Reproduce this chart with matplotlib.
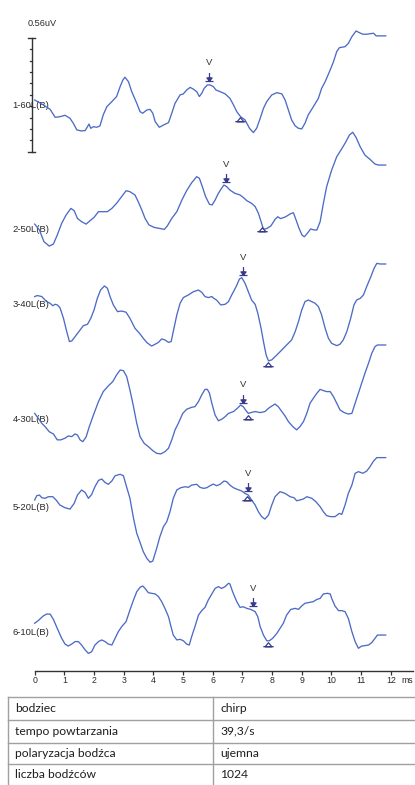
import numpy as np
import matplotlib
matplotlib.use("Agg")
import matplotlib.pyplot as plt
from matplotlib.path import Path
from matplotlib.transforms import offset_copy
from matplotlib.lines import Line2D

# ---------------- data (latency in ms, amplitude in uV) ----------------
trace_labels = ["1-60L(B)", "2-50L(B)", "3-40L(B)", "4-30L(B)", "5-20L(B)", "6-10L(B)"]

t1 = [0, 0.29, 0.52, 0.69, 0.85, 1.02, 1.19, 1.30, 1.42, 1.58, 1.70, 1.78, 1.83, 1.89, 1.98,
      2.09, 2.20, 2.31, 2.43, 2.60, 2.76, 2.88, 2.97, 3.04, 3.16, 3.27, 3.44, 3.55, 3.64, 3.78,
      3.89, 3.98, 4.06, 4.20, 4.34, 4.51, 4.62, 4.73, 4.90, 5.01, 5.12, 5.24, 5.35, 5.46, 5.55,
      5.63, 5.71, 5.82, 5.91, 6.02, 6.11, 6.25, 6.42, 6.58, 6.70, 6.81, 6.94, 7.09, 7.24, 7.37,
      7.48, 7.60, 7.71, 7.82, 7.99, 8.16, 8.33, 8.44, 8.55, 8.66, 8.78, 8.89, 9.00, 9.11, 9.22,
      9.39, 9.56, 9.67, 9.79, 9.96, 10.07, 10.18, 10.27, 10.46, 10.57, 10.69, 10.83, 10.94, 11.06, 11.19,
      11.33, 11.42, 11.51, 11.83]
a1 = [0.026, 0.002, -0.020, -0.059, -0.056, -0.049, -0.064, -0.088, -0.121, -0.126, -0.124, -0.105, -0.092, -0.113, -0.105,
      -0.108, -0.101, -0.047, -0.007, 0.018, 0.043, 0.092, 0.124, 0.138, 0.116, 0.067, 0.010, -0.031, -0.039, -0.023,
      -0.020, -0.039, -0.080, -0.108, -0.097, -0.085, -0.039, 0.010, 0.051, 0.056, 0.075, 0.088, 0.079, 0.067, 0.043,
      0.059, 0.083, 0.100, 0.100, 0.092, 0.075, 0.067, 0.056, 0.034, 0.002, -0.031, -0.056, -0.072, -0.113, -0.134,
      -0.113, -0.064, -0.015, 0.018, 0.051, 0.062, 0.056, 0.026, -0.023, -0.072, -0.101, -0.113, -0.116, -0.088, -0.047,
      -0.007, 0.034, 0.083, 0.116, 0.174, 0.214, 0.264, 0.283, 0.288, 0.304, 0.337, 0.365, 0.357, 0.349, 0.349,
      0.352, 0.354, 0.341, 0.341]

t2 = [0, 0.16, 0.31, 0.49, 0.63, 0.76, 0.91, 1.06, 1.22, 1.33, 1.44, 1.58, 1.73, 1.87, 2.00,
      2.15, 2.31, 2.45, 2.60, 2.76, 2.93, 3.08, 3.21, 3.38, 3.49, 3.61, 3.72, 3.85, 4.02, 4.20,
      4.37, 4.47, 4.62, 4.79, 4.96, 5.12, 5.29, 5.46, 5.55, 5.65, 5.76, 5.89, 5.98, 6.08, 6.19,
      6.30, 6.38, 6.47, 6.58, 6.75, 6.92, 7.03, 7.15, 7.31, 7.43, 7.54, 7.63, 7.71, 7.82, 7.96,
      8.10, 8.19, 8.29, 8.46, 8.61, 8.72, 8.81, 8.91, 9.01, 9.09, 9.19, 9.30, 9.42, 9.51, 9.62,
      9.73, 9.84, 10.01, 10.18, 10.31, 10.46, 10.61, 10.72, 10.83, 10.97, 11.13, 11.30, 11.47, 11.58, 11.83]
a2 = [0.029, 0.000, -0.057, -0.079, -0.069, -0.025, 0.033, 0.074, 0.106, 0.095, 0.057, 0.041, 0.029, 0.046, 0.062,
      0.090, 0.090, 0.090, 0.106, 0.131, 0.164, 0.193, 0.188, 0.172, 0.139, 0.098, 0.057, 0.025, 0.013, 0.008,
      0.003, 0.020, 0.057, 0.090, 0.147, 0.193, 0.232, 0.262, 0.254, 0.213, 0.164, 0.126, 0.123, 0.147, 0.180,
      0.205, 0.221, 0.213, 0.196, 0.180, 0.172, 0.160, 0.144, 0.131, 0.115, 0.082, 0.041, 0.003, 0.007, 0.020,
      0.052, 0.065, 0.056, 0.065, 0.079, 0.085, 0.049, 0.008, -0.025, -0.033, -0.016, 0.005, 0.000, 0.000, 0.041,
      0.131, 0.213, 0.295, 0.360, 0.390, 0.426, 0.467, 0.480, 0.455, 0.409, 0.368, 0.347, 0.324, 0.319, 0.319]

t3 = [0, 0.09, 0.24, 0.40, 0.52, 0.61, 0.69, 0.76, 0.85, 0.97, 1.08, 1.17, 1.25, 1.36, 1.53,
      1.64, 1.78, 1.89, 2.00, 2.11, 2.22, 2.35, 2.45, 2.54, 2.65, 2.79, 2.93, 3.08, 3.21, 3.38,
      3.53, 3.66, 3.78, 3.94, 4.06, 4.17, 4.28, 4.39, 4.51, 4.60, 4.67, 4.79, 4.90, 5.01, 5.18,
      5.35, 5.52, 5.63, 5.74, 5.85, 5.97, 6.04, 6.13, 6.27, 6.42, 6.53, 6.64, 6.79, 6.90, 6.98,
      7.09, 7.20, 7.31, 7.43, 7.52, 7.63, 7.71, 7.80, 7.88, 7.99, 8.16, 8.33, 8.49, 8.66, 8.78,
      8.89, 9.00, 9.11, 9.22, 9.34, 9.45, 9.56, 9.67, 9.79, 9.90, 10.01, 10.18, 10.29, 10.40, 10.52,
      10.65, 10.76, 10.85, 10.97, 11.08, 11.19, 11.33, 11.44, 11.53, 11.64, 11.83]
a3 = [0.038, 0.043, 0.038, 0.013, 0.005, -0.007, 0.000, -0.003, -0.016, -0.069, -0.134, -0.183, -0.180, -0.159, -0.126,
      -0.105, -0.098, -0.069, -0.028, 0.029, 0.070, 0.090, 0.079, 0.038, -0.003, -0.036, -0.033, -0.039, -0.069, -0.118,
      -0.142, -0.167, -0.188, -0.205, -0.196, -0.187, -0.170, -0.175, -0.187, -0.183, -0.134, -0.052, 0.005, 0.033, 0.046,
      0.062, 0.070, 0.059, 0.038, 0.033, 0.038, 0.029, 0.021, -0.003, 0.000, 0.013, 0.046, 0.087, 0.124, 0.131,
      0.103, 0.062, 0.021, 0.000, -0.044, -0.118, -0.183, -0.249, -0.278, -0.273, -0.249, -0.224, -0.200, -0.175, -0.134,
      -0.085, -0.028, 0.013, 0.021, 0.013, 0.005, -0.011, -0.052, -0.118, -0.167, -0.192, -0.203, -0.196, -0.175, -0.134,
      -0.069, -0.003, 0.021, 0.029, 0.046, 0.087, 0.136, 0.177, 0.201, 0.198, 0.198]

t4 = [0, 0.12, 0.24, 0.35, 0.49, 0.63, 0.76, 0.88, 1.02, 1.13, 1.25, 1.36, 1.44, 1.53, 1.62,
      1.73, 1.84, 1.98, 2.15, 2.31, 2.48, 2.63, 2.76, 2.88, 2.99, 3.10, 3.21, 3.33, 3.44, 3.55,
      3.69, 3.83, 3.98, 4.11, 4.25, 4.39, 4.51, 4.62, 4.73, 4.84, 4.99, 5.12, 5.29, 5.40, 5.52,
      5.63, 5.74, 5.82, 5.89, 5.97, 6.08, 6.19, 6.30, 6.42, 6.53, 6.70, 6.83, 6.94, 7.03, 7.12,
      7.20, 7.31, 7.43, 7.60, 7.76, 7.88, 7.99, 8.10, 8.21, 8.33, 8.44, 8.55, 8.70, 8.83, 8.94,
      9.06, 9.17, 9.28, 9.39, 9.51, 9.62, 9.73, 9.84, 9.96, 10.07, 10.18, 10.29, 10.43, 10.57, 10.69,
      10.80, 10.91, 11.02, 11.13, 11.25, 11.36, 11.47, 11.55, 11.83]
a4 = [0.029, 0.005, -0.020, -0.036, -0.061, -0.072, -0.101, -0.101, -0.093, -0.082, -0.085, -0.072, -0.077, -0.101, -0.110,
      -0.088, -0.036, 0.021, 0.087, 0.136, 0.164, 0.185, 0.218, 0.242, 0.239, 0.210, 0.144, 0.062, -0.020, -0.085,
      -0.118, -0.134, -0.154, -0.167, -0.170, -0.159, -0.142, -0.101, -0.052, -0.020, 0.029, 0.049, 0.059, 0.062, 0.087,
      0.120, 0.147, 0.147, 0.128, 0.079, 0.021, -0.007, 0.000, 0.013, 0.029, 0.038, 0.054, 0.070, 0.062, 0.043,
      0.029, 0.034, 0.038, 0.033, 0.038, 0.054, 0.065, 0.075, 0.062, 0.038, 0.016, -0.011, -0.036, -0.052, -0.036,
      -0.011, 0.029, 0.079, 0.103, 0.128, 0.147, 0.141, 0.136, 0.136, 0.111, 0.079, 0.046, 0.033, 0.026, 0.029,
      0.079, 0.128, 0.177, 0.226, 0.275, 0.324, 0.357, 0.365, 0.365]

t5 = [0, 0.07, 0.16, 0.24, 0.35, 0.46, 0.61, 0.72, 0.85, 1.02, 1.19, 1.33, 1.44, 1.58, 1.70,
      1.81, 1.92, 2.03, 2.15, 2.26, 2.37, 2.48, 2.60, 2.71, 2.88, 2.99, 3.08, 3.21, 3.33, 3.44,
      3.55, 3.66, 3.78, 3.89, 3.98, 4.11, 4.22, 4.34, 4.45, 4.56, 4.67, 4.79, 4.92, 5.07, 5.18,
      5.29, 5.46, 5.57, 5.69, 5.80, 5.91, 6.02, 6.13, 6.25, 6.38, 6.47, 6.58, 6.70, 6.83, 6.98,
      7.09, 7.20, 7.31, 7.43, 7.54, 7.65, 7.76, 7.88, 7.99, 8.10, 8.27, 8.44, 8.61, 8.74, 8.83,
      8.94, 9.06, 9.17, 9.34, 9.48, 9.62, 9.73, 9.84, 9.98, 10.12, 10.27, 10.35, 10.46, 10.57, 10.69,
      10.80, 10.91, 11.06, 11.19, 11.30, 11.42, 11.53, 11.83]
a5 = [0.038, 0.059, 0.062, 0.049, 0.046, 0.054, 0.054, 0.038, 0.013, 0.000, -0.007, 0.021, 0.062, 0.087, 0.075,
      0.046, 0.065, 0.103, 0.134, 0.141, 0.124, 0.115, 0.131, 0.157, 0.164, 0.157, 0.111, 0.046, -0.052, -0.126,
      -0.170, -0.216, -0.249, -0.268, -0.262, -0.200, -0.142, -0.093, -0.069, -0.020, 0.046, 0.087, 0.098, 0.103, 0.100,
      0.111, 0.115, 0.100, 0.095, 0.098, 0.108, 0.116, 0.108, 0.115, 0.131, 0.128, 0.111, 0.098, 0.090, 0.082,
      0.070, 0.062, 0.038, 0.013, -0.020, -0.044, -0.056, -0.036, 0.013, 0.054, 0.079, 0.070, 0.054, 0.049, 0.034,
      0.038, 0.043, 0.054, 0.046, 0.029, 0.005, -0.020, -0.039, -0.044, -0.044, -0.028, -0.033, 0.013, 0.070, 0.111,
      0.169, 0.177, 0.169, 0.180, 0.201, 0.229, 0.246, 0.246]

t6 = [0, 0.12, 0.29, 0.40, 0.52, 0.63, 0.76, 0.91, 1.02, 1.13, 1.25, 1.36, 1.47, 1.58, 1.70,
      1.81, 1.92, 2.03, 2.15, 2.26, 2.37, 2.48, 2.60, 2.71, 2.82, 2.93, 3.08, 3.21, 3.33, 3.44,
      3.55, 3.64, 3.72, 3.83, 3.94, 4.06, 4.17, 4.28, 4.39, 4.51, 4.58, 4.67, 4.79, 4.90, 5.01,
      5.12, 5.21, 5.29, 5.40, 5.52, 5.63, 5.74, 5.85, 5.97, 6.08, 6.19, 6.30, 6.42, 6.53, 6.58,
      6.67, 6.81, 6.92, 7.03, 7.15, 7.28, 7.43, 7.52, 7.60, 7.71, 7.82, 7.91, 8.02, 8.16, 8.27,
      8.38, 8.49, 8.63, 8.78, 8.89, 9.00, 9.11, 9.28, 9.39, 9.51, 9.62, 9.73, 9.87, 9.96, 10.01,
      10.12, 10.24, 10.35, 10.46, 10.57, 10.69, 10.80, 10.91, 11.02, 11.13, 11.25, 11.36, 11.47, 11.55, 11.83]
a6 = [0.043, 0.056, 0.079, 0.088, 0.088, 0.062, 0.018, -0.031, -0.059, -0.069, -0.059, -0.047, -0.047, -0.064, -0.088,
      -0.105, -0.097, -0.064, -0.047, -0.039, -0.047, -0.059, -0.064, -0.031, 0.002, 0.026, 0.051, 0.108, 0.157, 0.198,
      0.219, 0.226, 0.214, 0.193, 0.190, 0.187, 0.174, 0.149, 0.116, 0.075, 0.034, -0.015, -0.039, -0.036, -0.043,
      -0.059, -0.064, -0.023, 0.026, 0.083, 0.105, 0.121, 0.157, 0.187, 0.214, 0.223, 0.214, 0.223, 0.239, 0.236,
      0.198, 0.149, 0.121, 0.124, 0.116, 0.111, 0.100, 0.075, 0.026, -0.015, -0.043, -0.043, -0.031, -0.007, 0.018,
      0.043, 0.083, 0.111, 0.116, 0.111, 0.128, 0.141, 0.146, 0.149, 0.160, 0.165, 0.187, 0.190, 0.187, 0.165,
      0.128, 0.105, 0.105, 0.100, 0.067, 0.002, -0.047, -0.080, -0.069, -0.067, -0.064, -0.052, -0.031, -0.015, -0.015]

times = [t1, t2, t3, t4, t5, t6]
amps = [a1, a2, a3, a4, a5, a6]

wave_v_ms = [5.89, 6.45, 7.01, 7.03, 7.20, 7.35]      # "V" peak marks
trough_ms = [6.92, 7.67, 7.88, 7.20, 7.17, 7.88]      # trough marks
scale_uv = 0.56
x_ticks = list(range(13))

table_left = ["bodziec", "tempo powtarzania", "polaryzacja bodźca", "liczba bodźców"]
table_right = ["chirp", "39,3/s", "ujemna", "1024"]

# ---------------- layout ----------------
W, H = 415, 785
PX_PER_UV = 203.6
offsets_px = [105.3, 230.0, 304.3, 419.3, 507.7, 632.0]   # baseline of each trace (px from top)
axis_px = 670.7

line_col = "#4c6bc6"
mark_col = "#3a3a88"
txt_col = "#2a2a2a"

fig = plt.figure(figsize=(W / 100, H / 100), dpi=100)
ax_left, ax_right = 34.7, 413.0
ax = fig.add_axes([ax_left / W, (H - axis_px) / H, (ax_right - ax_left) / W, axis_px / H])
ax.set_xlim(0, (ax_right - ax_left) / 29.67)
ax.set_ylim(-axis_px / PX_PER_UV, 0)

for s in ("top", "right", "left"):
    ax.spines[s].set_visible(False)
ax.spines["bottom"].set_color("#333333")
ax.spines["bottom"].set_linewidth(1.0)
ax.set_yticks([])
ax.set_xticks(x_ticks)
ax.set_xticklabels([str(v) for v in x_ticks])
ax.tick_params(axis="x", direction="out", length=2.6, width=0.9, color="#333333",
               pad=1.5, labelsize=6.3, labelcolor=txt_col)
for lab in ax.get_xticklabels():
    lab.set_fontfamily("Liberation Sans")
ax.text(12.56, -axis_px / PX_PER_UV, "ms", fontsize=6.3,
        family="Liberation Sans", color=txt_col, ha="center", va="top",
        transform=offset_copy(ax.transData, fig, x=0, y=-5.5, units="dots"))

# marker paths
arrow_path = Path(
    [(0, 8.5), (0, 0), (-4, 0), (4, 0), (-2.6, 3.6), (0, 0.4), (2.6, 3.6), (-2.6, 3.6)],
    [Path.MOVETO, Path.LINETO, Path.MOVETO, Path.LINETO,
     Path.MOVETO, Path.LINETO, Path.LINETO, Path.CLOSEPOLY])
tri_path = Path(
    [(-3.3, -5.2), (0, -1.2), (3.3, -5.2), (-3.3, -5.2), (-5.2, -5.2), (5.2, -5.2)],
    [Path.MOVETO, Path.LINETO, Path.LINETO, Path.CLOSEPOLY, Path.MOVETO, Path.LINETO])

tr_up4 = offset_copy(ax.transData, fig, x=0, y=4, units="dots")
tr_up22 = offset_copy(ax.transData, fig, x=0, y=22, units="dots")
tr_dn = offset_copy(ax.transData, fig, x=0, y=-0.5, units="dots")

for lab, t, a, off, tv, tt in zip(trace_labels, times, amps, offsets_px, wave_v_ms, trough_ms):
    base = -off / PX_PER_UV
    t = np.asarray(t)
    y = np.asarray(a) + base
    ax.text(-0.74, base, lab, fontsize=6.8, family="Liberation Sans", color=txt_col,
            ha="left", va="center", clip_on=False)
    ax.plot(t, y, color=line_col, lw=0.95, solid_joinstyle="round", zorder=3, clip_on=False)
    yv = np.interp(tv, t, y)
    ax.plot([tv], [yv], marker=arrow_path, ms=12.2, color=mark_col, mfc=mark_col, mew=0.9,
            ls="none", transform=tr_up4, zorder=4, clip_on=False)
    ax.text(tv, yv, "V", transform=tr_up22, fontsize=6.8, family="Liberation Sans",
            color="#333333", ha="center", va="center")
    yt = np.interp(tt, t, y)
    ax.plot([tt], [yt], marker=tri_path, ms=7.5, color=mark_col, mfc="none", mew=0.9,
            ls="none", transform=tr_dn, zorder=4, clip_on=False)

# amplitude scale bar
sb_x = -0.10
sb_top = -37.7 / PX_PER_UV
sb_bot = sb_top - scale_uv
bar_col = "#333333"
ax.plot([sb_x, sb_x], [sb_top, sb_bot], color=bar_col, lw=1.0, clip_on=False)
for yy in (sb_top, sb_bot):
    ax.plot([sb_x - 0.12, sb_x + 0.12], [yy, yy], color=bar_col, lw=1.0, clip_on=False)
for k in range(1, 10):
    yy = sb_top - k * scale_uv / 10
    ax.plot([sb_x - 0.07, sb_x], [yy, yy], color=bar_col, lw=0.9, clip_on=False)
ax.text(-0.25, -23.3 / PX_PER_UV, f"{scale_uv}uV", fontsize=6.6, family="Liberation Sans",
        color=txt_col, ha="left", va="center", clip_on=False)

# ---------------- parameter table ----------------
def fx(px):
    return px / W

def fy(py):
    return 1 - py / H

row_edges = [696.7, 719.5, 742.7, 763.6, 786.0]
col_left, col_mid, col_right = 8.3, 213.3, 420.0
grid_col = "#a0a0a0"
for py in row_edges:
    fig.add_artist(Line2D([fx(col_left), fx(col_right)], [fy(py), fy(py)],
                          color=grid_col, lw=1.0))
for px in (col_left, col_mid):
    fig.add_artist(Line2D([fx(px), fx(px)], [fy(row_edges[0]), fy(row_edges[-1])],
                          color=grid_col, lw=1.0))
for i, (l, r) in enumerate(zip(table_left, table_right)):
    yc = (row_edges[i] + row_edges[i + 1]) / 2
    fig.text(fx(15), fy(yc), l, fontsize=8.7, family="Lato", color="#1e1e1e",
             ha="left", va="center")
    fig.text(fx(220), fy(yc), r, fontsize=8.7, family="Lato", color="#1e1e1e",
             ha="left", va="center")

fig.savefig("out.png", dpi=100, facecolor="white")
